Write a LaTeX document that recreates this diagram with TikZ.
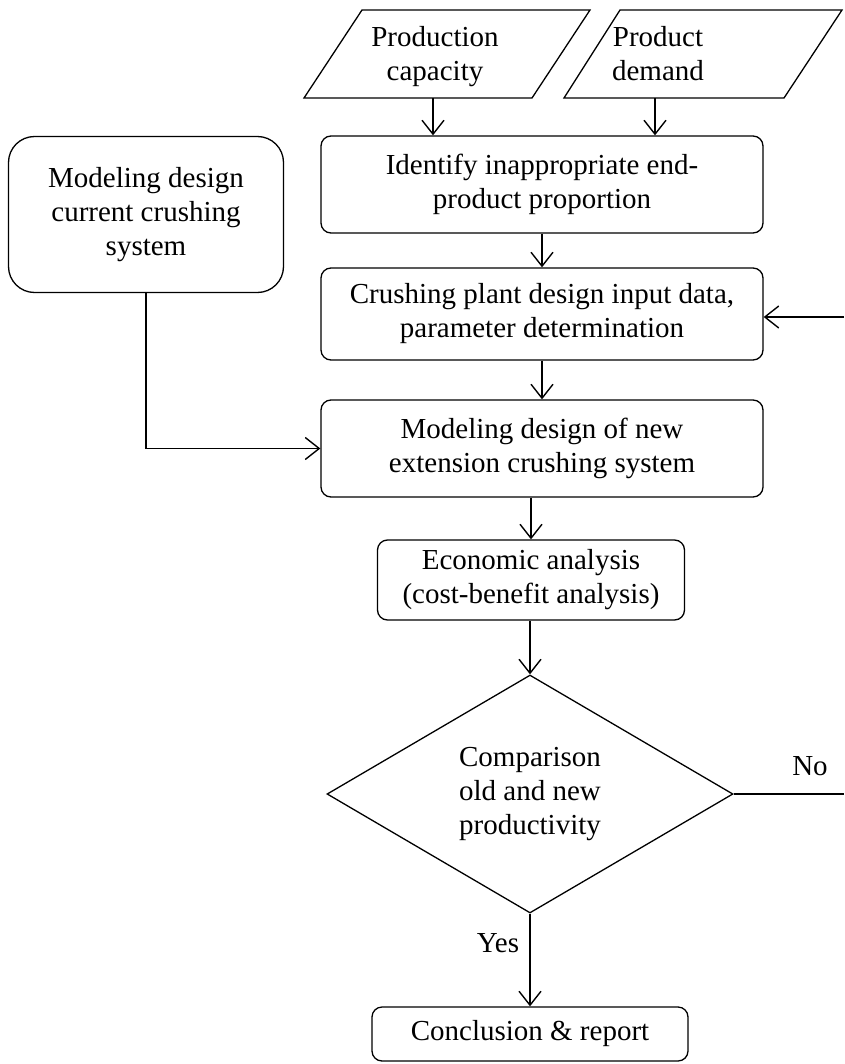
\documentclass[tikz,border=0pt]{standalone}
\usepackage{fontspec}
\setmainfont{Liberation Serif}
\usetikzlibrary{arrows.meta,shapes.geometric}
\begin{document}
\begin{tikzpicture}[x=1pt,y=-1pt,
  every node/.style={font=\fontsize{29}{34}\selectfont, align=center},
  box/.style={draw, rounded corners=10pt, inner sep=0pt, line width=1.3pt},
  bigbox/.style={draw, rounded corners=26pt, inner sep=0pt, line width=1.3pt},
  dec/.style={draw, diamond, aspect=1.7, inner sep=0pt, line width=1.3pt},
  io/.style={draw, line width=1.3pt},
  line/.style={line width=1.4pt},
  arr/.style={line width=1.4pt, -{Straight Barb[length=14pt,width=22pt]}}]
\useasboundingbox (0,0) rectangle (844,1064);

% input parallelograms
\draw[io] (362,10) -- (590,10) -- (532,98) -- (304,98) -- cycle;
\draw[io] (620,10) -- (842,10) -- (784,98) -- (564,98) -- cycle;
\node (p1) at (435,57) {\strut Production\\capacity\strut};
\node (p2) at (658,57) {\strut Product\\demand\strut};
\coordinate (p1b) at (433,98);
\coordinate (p2b) at (655,98);

% boxes
\node[box, minimum width=442pt, minimum height=97pt] (b1) at (542,184.5) {\strut Identify inappropriate end-\\product proportion\strut};
\node[box, minimum width=442pt, minimum height=92pt] (b2) at (542,314) {\strut Crushing plant design input data,\\parameter determination\strut};
\node[box, minimum width=442pt, minimum height=97pt] (b3) at (542,448.5) {\strut Modeling design of new\\extension crushing system\strut};
\node[bigbox, minimum width=275pt, minimum height=156pt] (lb) at (146,214.5) {\strut Modeling design\\current crushing\\system\strut};
\node[box, minimum width=307pt, minimum height=80pt] (b4) at (531,580) {\strut Economic analysis\\(cost-benefit analysis)\strut};
\node[dec, minimum width=406pt, minimum height=238pt] (dm) at (530,794) {Comparison\\old and new\\productivity};
\node[box, minimum width=316pt, minimum height=54pt] (b5) at (530,1034) {Conclusion \& report};

% labels
\node (no) at (810,766) {No};
\node (yes) at (498,943) {Yes};

% connectors
\draw[arr] (p1b) -- (p1b |- b1.north);
\draw[arr] (p2b) -- (p2b |- b1.north);
\draw[arr] (b1.south) -- (b2.north);
\draw[arr] (b2.south) -- (b3.north);
\draw[arr] (lb.south) |- (b3.west);
\draw[arr] (b3.south -| b4.north) -- (b4.north);
\draw[arr] (b4.south -| dm.north) -- (dm.north);
\draw[arr] (dm.south) -- (b5.north);
\coordinate (rn) at (844,794);
\coordinate (rc) at (844,317);
\draw[line] (dm.east) -- (rn);
\draw[arr] (rc) -- (rc -| b2.east);
\end{tikzpicture}
\end{document}
